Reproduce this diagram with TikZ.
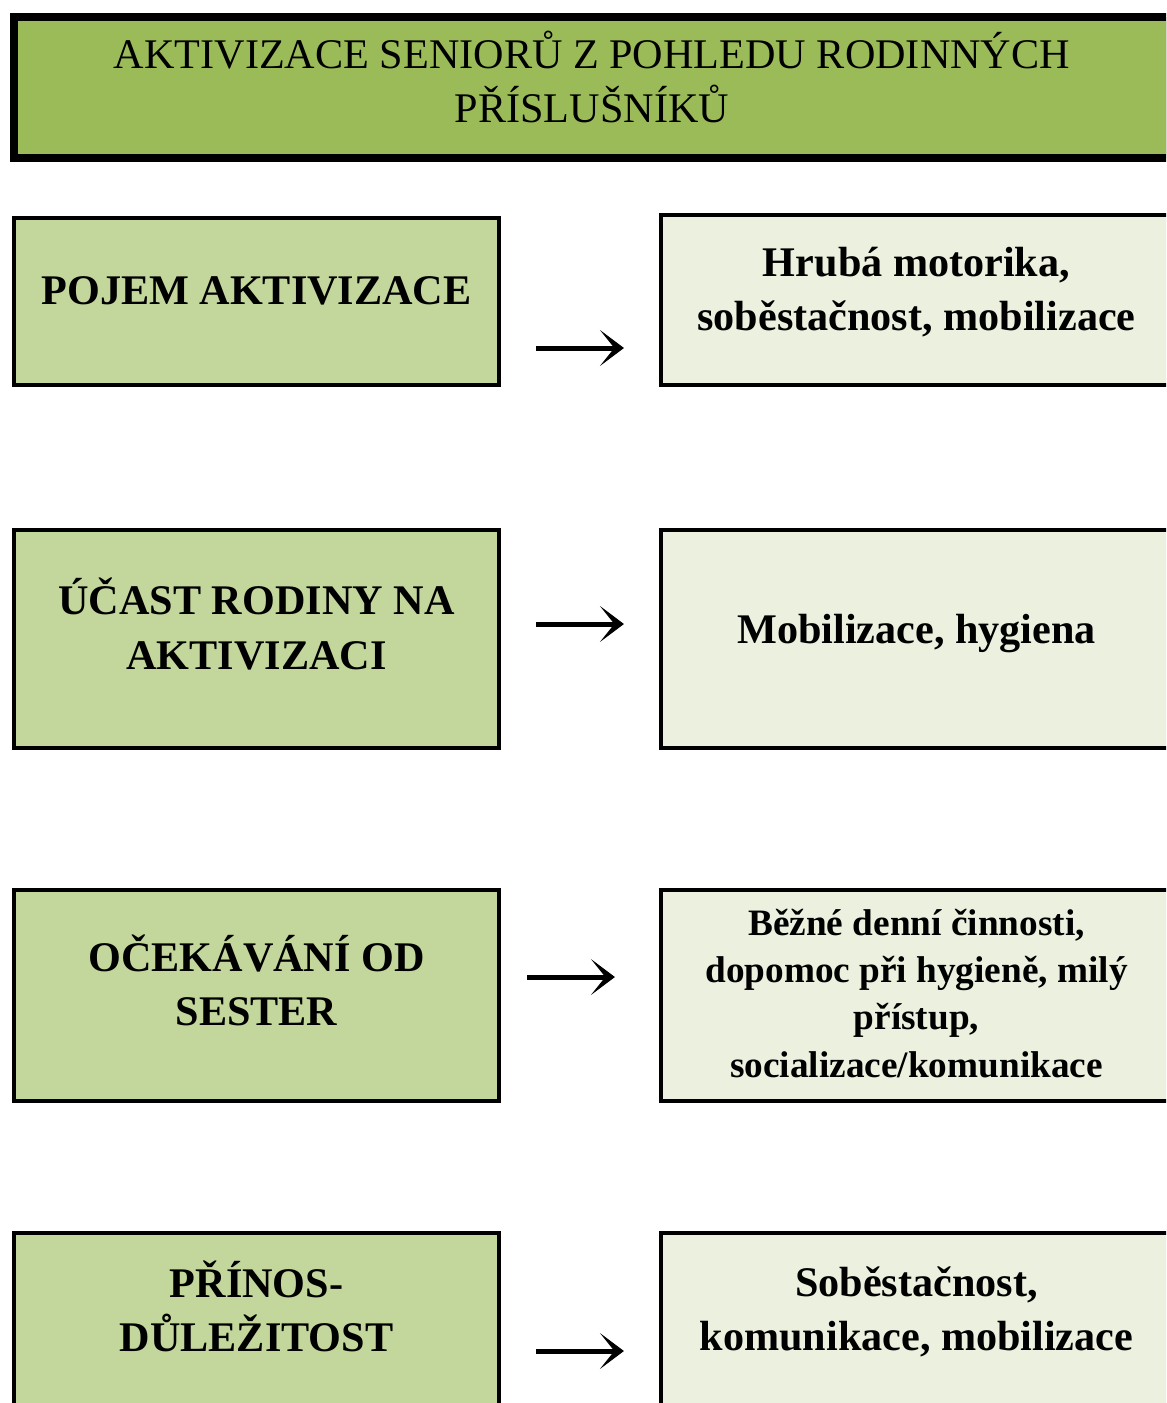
\documentclass[tikz,border=0pt]{standalone}
\usepackage{fontspec}
\setmainfont{Liberation Serif}
\usetikzlibrary{arrows.meta}

\definecolor{titlegreen}{HTML}{9BBB59}
\definecolor{leftgreen}{HTML}{C3D69B}
\definecolor{rightgreen}{HTML}{EBF1DE}

\newcommand{\bigbold}{\fontsize{30}{38.5}\selectfont\bfseries}
\newcommand{\smallbold}{\fontsize{26.5}{33.5}\selectfont\bfseries}

\begin{document}
\begin{tikzpicture}[x=0.025cm, y=-0.025cm,
  titlebox/.style={draw, line width=0.2cm, fill=titlegreen, minimum width=28.9cm, minimum height=3.525cm},
  leftbox/.style={draw, line width=0.1cm, fill=leftgreen, minimum width=12.125cm},
  rightbox/.style={draw, line width=0.1cm, fill=rightgreen, minimum width=12.775cm},
  boxtext/.style={align=center, inner sep=0, font=\bigbold},
  flow/.style={-{Stealth[length=0.6cm, width=0.9cm, inset=0.36cm, line width=0.6pt]}, line width=0.125cm, shorten <=0.875cm, shorten >=0.875cm}]

\path[use as bounding box, clip] (0,0) rectangle (1166,1403);

\node[titlebox] (title) at (592, 87.5) {};
\node[align=center, inner sep=0, font=\fontsize{30}{38.5}\selectfont] (title text) at (592, 77) {AKTIVIZACE SENIORŮ Z POHLEDU RODINNÝCH\\PŘÍSLUŠNÍKŮ};

\node[leftbox, minimum height=4.175cm] (pojem) at (256.5, 301.5) {};
\node[rightbox, minimum height=4.25cm] (hruba) at (916.5, 300) {};
\node[boxtext] (pojem text) at (256.5, 291) {POJEM AKTIVIZACE};
\node[boxtext] (hruba text) at (916.5, 292.5) {Hrubá motorika,\\soběstačnost, mobilizace};
\coordinate (r1) at (0, 348);
\draw[flow] (pojem.east |- r1) -- (hruba.west |- r1);

\node[leftbox, minimum height=5.45cm] (ucast) at (256.5, 639) {};
\node[rightbox, minimum height=5.45cm] (mobil) at (916.5, 639) {};
\node[boxtext] (ucast text) at (256.5, 624) {ÚČAST RODINY NA\\AKTIVIZACI};
\node[boxtext] (mobil text) at (916.5, 634) {Mobilizace, hygiena};
\coordinate (r2) at (0, 624);
\draw[flow] (ucast.east |- r2) -- (mobil.west |- r2);

\node[leftbox, minimum height=5.275cm] (ocekavani) at (256.5, 995.5) {};
\node[rightbox, minimum height=5.275cm] (bezne) at (916.5, 995.5) {};
\node[boxtext] (ocekavani text) at (256.5, 980) {OČEKÁVÁNÍ OD\\SESTER};
\node[boxtext, font=\smallbold] (bezne text) at (916.5, 993.5) {Běžné denní činnosti,\\dopomoc při hygieně, milý\\přístup,\\socializace/komunikace};
\coordinate (r3) at (0, 977);
\draw[flow, shorten <=0.65cm, shorten >=1.1cm] (ocekavani.east |- r3) -- (bezne.west |- r3);

\node[leftbox, minimum height=6.675cm] (prinos) at (256.5, 1366.5) {};
\node[rightbox, minimum height=6.675cm] (sobest) at (916.5, 1366.5) {};
\node[boxtext] (prinos text) at (256.5, 1306) {PŘÍNOS-\\DŮLEŽITOST};
\node[boxtext] (sobest text) at (916.5, 1312) {Soběstačnost,\\komunikace, mobilizace};
\coordinate (r4) at (0, 1351);
\draw[flow] (prinos.east |- r4) -- (sobest.west |- r4);
\end{tikzpicture}
\end{document}
